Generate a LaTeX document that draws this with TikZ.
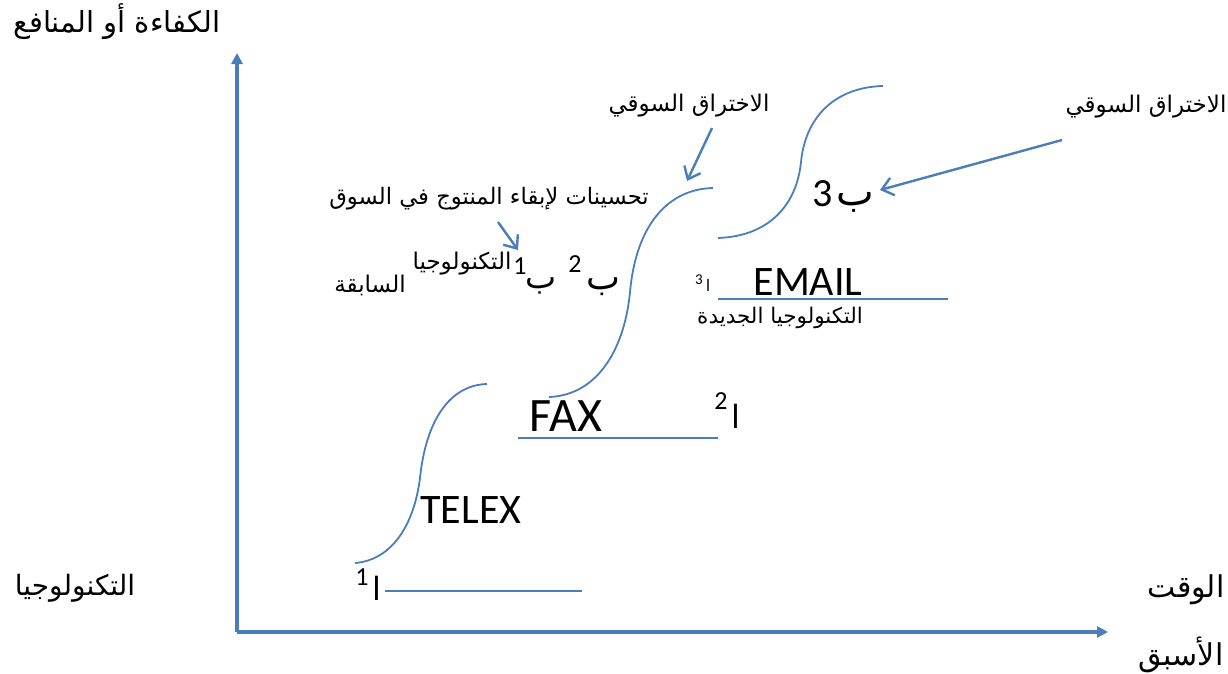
\documentclass[tikz,border=0pt]{standalone}
\usepackage{fontspec}
\setmainfont{Carlito}
\newfontfamily\arabicfont[Script=Arabic]{DejaVu Sans}
\TeXXeTstate=1
\usetikzlibrary{arrows.meta}
\newcommand\artxt[1]{{\arabicfont\beginR #1\endR}}
\newcommand\fs[1]{\fontsize{#1}{#1}\selectfont}
\definecolor{lineblue}{RGB}{74,126,187}
\tikzset{
  axisline/.style={draw=lineblue, line width=3.2pt, -{Triangle[length=11pt,width=11pt]}},
  curveline/.style={draw=lineblue, line width=1.8pt},
  baseline/.style={draw=lineblue, line width=1.8pt},
  callout/.style={draw=lineblue, line width=2.4pt, -{Straight Barb[length=11pt,width=18pt]}},
  lbl/.style={inner sep=0pt, anchor=center},
}
\begin{document}
\begin{tikzpicture}[x=1pt,y=-1pt]
\useasboundingbox (0,0) rectangle (1228,673);

% axes
\coordinate (origin) at (237,632);
\coordinate (ytop) at (237,53);
\coordinate (xend) at (1108,632);
\draw[axisline] (origin) -- (ytop);
\draw[axisline] (origin) -- (xend);

% axis captions
\node[lbl, font=\fs{29}] (ylab) at (117,22) {\artxt{الكفاءة أو المنافع}};
\node[lbl, font=\fs{28}] (tech) at (75,588) {\artxt{التكنولوجيا}};
\node[lbl, font=\fs{30}] (time) at (1186,590) {\artxt{الوقت}};
\node[lbl, font=\fs{30}] (prev) at (1181,655) {\artxt{الأسبق}};

% technology base lines
\coordinate (l1a) at (385,591); \coordinate (l1b) at (582,591);
\coordinate (l2a) at (518,438); \coordinate (l2b) at (718,438);
\coordinate (l3a) at (718,299); \coordinate (l3b) at (948,299);
\draw[baseline] (l1a) -- (l1b);
\draw[baseline] (l2a) -- (l2b);
\draw[baseline] (l3a) -- (l3b);

% S-curves
\coordinate (c1a) at (355,563); \coordinate (c1m) at (420,478); \coordinate (c1b) at (487,384);
\coordinate (c2a) at (549,397); \coordinate (c2m) at (630,292); \coordinate (c2b) at (713,188);
\coordinate (c3a) at (718,238); \coordinate (c3m) at (801,162); \coordinate (c3b) at (883,86);
\draw[curveline] (c1a) .. controls (392,560) and (414,525) .. (c1m)
                        .. controls (426,420) and (450,385) .. (c1b);
\draw[curveline] (c2a) .. controls (600,395) and (625,345) .. (c2m)
                        .. controls (636,225) and (668,189) .. (c2b);
\draw[curveline] (c3a) .. controls (772,236) and (797,202) .. (c3m)
                        .. controls (806,112) and (840,87) .. (c3b);

% technology names
\node[lbl, font=\fs{42}] (telex) at (471,510) {TELEX};
\node[lbl, font=\fs{48}] (fax) at (566,416) {FAX};
\node[lbl, font=\fs{42}] (email) at (808,282) {EMAIL};

% markers a1, a2, a3
\node[lbl, font=\fs{26}] (a1n) at (362,577) {1};
\node[lbl, font=\fs{32}] (a1) at (377,588) {\artxt{ا}};
\node[lbl, font=\fs{26}] (a2n) at (721,401) {2};
\node[lbl, font=\fs{32}] (a2) at (736,416) {\artxt{ا}};
\node[lbl, font=\fs{15}] (a3n) at (699,280) {3};
\node[lbl, font=\fs{16}] (a3) at (708,285) {\artxt{ا}};
\node[lbl, font=\fs{21.5}] (newtech) at (780,318) {\artxt{التكنولوجيا الجديدة}};

% markers b1, b2 and previous technology
\node[lbl, font=\fs{26}] (b1n) at (520,266) {1};
\node[lbl, font=\fs{33}] (b1) at (541,286) {\artxt{ب}};
\node[lbl, font=\fs{26}] (b2n) at (575,264) {2};
\node[lbl, font=\fs{36}] (b2) at (603,287) {\artxt{ب}};
\node[lbl, font=\fs{23}] (oldtech) at (462,264) {\artxt{التكنولوجيا}};
\node[lbl, font=\fs{23}] (oldtech2) at (370,285) {\artxt{السابقة}};

% marker b3
\node[lbl, font=\fs{40}] (b3n) at (823,194) {3};
\node[lbl, font=\fs{40}] (b3) at (855,202) {\artxt{ب}};

% annotations
\node[lbl, font=\fs{22.7}] (improve) at (489,199) {\artxt{تحسينات لإبقاء المنتوج في السوق}};
\node[lbl, font=\fs{23}] (break1) at (689,106) {\artxt{الاختراق السوقي}};
\node[lbl, font=\fs{23}] (break2) at (1146,107) {\artxt{الاختراق السوقي}};

\coordinate (p1) at (498,222); \coordinate (q1) at (518,250);
\coordinate (p2) at (712,128); \coordinate (q2) at (687,181);
\coordinate (p3) at (1062,140); \coordinate (q3) at (880,190);
\draw[callout] (p1) -- (q1);
\draw[callout] (p2) -- (q2);
\draw[callout] (p3) -- (q3);
\end{tikzpicture}
\end{document}
